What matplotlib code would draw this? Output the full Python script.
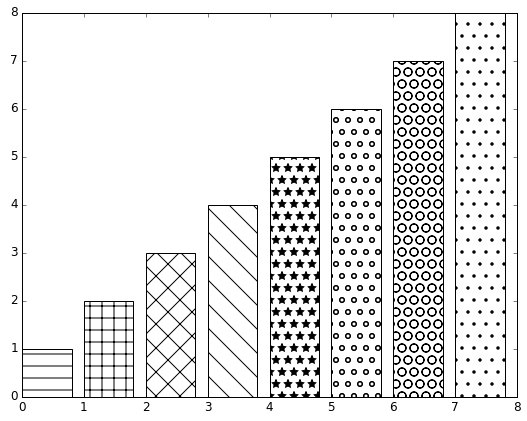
import matplotlib
matplotlib.use("Agg")
import matplotlib.pyplot as plt

plt.style.use('classic')

positions = [0, 1, 2, 3, 4, 5, 6, 7]
heights = [1, 2, 3, 4, 5, 6, 7, 8]
hatches = ['-', '+', 'x', '\\', '*', 'o', 'O', '.']

# hatch spacing in the reference matches a 72 dpi render
fig = plt.figure(figsize=(527/72, 421/72), dpi=72)
ax = fig.add_axes([22/527, 24/421, 495/527, 384/421])

for x, h, hat in zip(positions, heights, hatches):
    ax.bar(x, h, width=0.8, align='edge', color='white', edgecolor='black', hatch=hat)

ax.set_xlim(0, 8)
ax.set_ylim(0, 8)

fig.savefig('out.png', dpi=72)
